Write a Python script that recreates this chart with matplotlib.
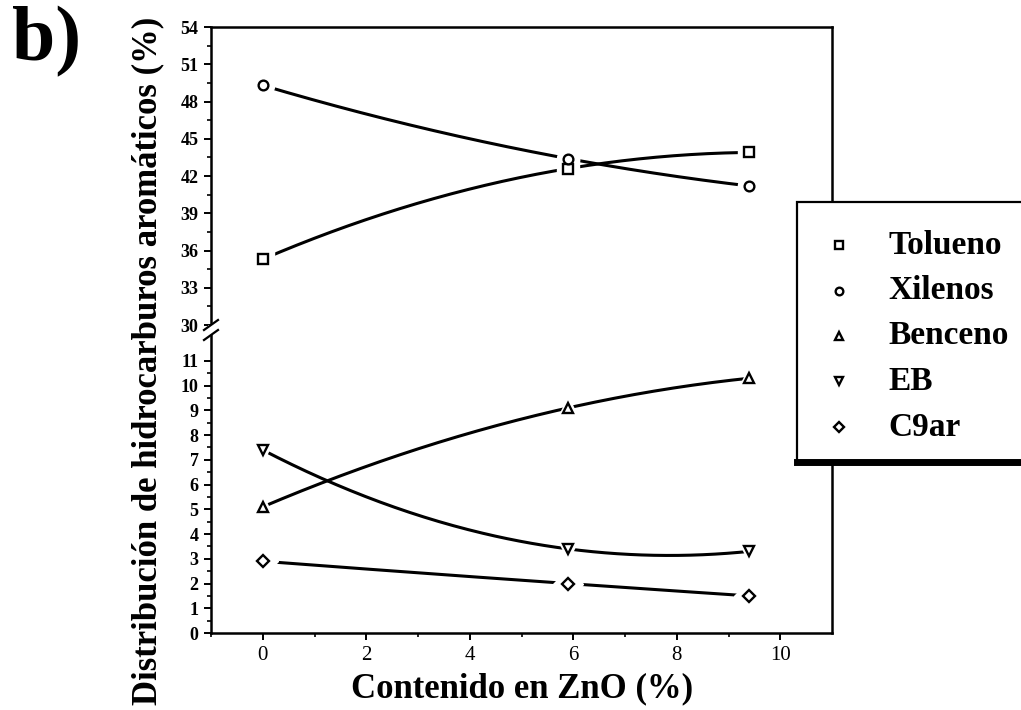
import numpy as np
import matplotlib
matplotlib.use('Agg')
import matplotlib.pyplot as plt
from matplotlib.patches import Rectangle
from matplotlib.lines import Line2D

# ZnO content (%) and aromatic distribution (%)
zno = [0, 5.9, 9.4]
tolueno = [35.3, 42.6, 43.9]
xilenos = [49.3, 43.4, 41.2]
benceno = [5.1, 9.1, 10.3]
eb = [7.4, 3.4, 3.3]
c9ar = [2.9, 2.0, 1.5]

upper_series = [("Tolueno", tolueno, 's'), ("Xilenos", xilenos, 'o')]
lower_series = [("Benceno", benceno, '^'), ("EB", eb, 'v'), ("C9ar", c9ar, 'D')]

plt.rcParams['font.family'] = ['Liberation Serif', 'DejaVu Serif']

W, H = 1021, 710
fig = plt.figure(figsize=(W / 100, H / 100), dpi=100)

left = 211 / W
width = (832 - 211) / W
y_break = 1 - 330 / H
y_top = 1 - 27 / H
y_bot = 1 - 633 / H

ax_up = fig.add_axes([left, y_break, width, y_top - y_break])
ax_lo = fig.add_axes([left, y_bot, width, y_break - y_bot])


def draw_series(ax, values, marker):
    # smooth quadratic trend through the points, broken near markers
    coef = np.polyfit(zno, values, 2)
    xs = np.linspace(zno[0], zno[-1], 200)
    ax.plot(xs, np.polyval(coef, xs), color='black', lw=2.2, zorder=2)
    ms = 7 if marker != 'D' else 6
    ax.plot(zno, values, linestyle='none', marker=marker, ms=ms + 9,
            mfc='white', mec='white', zorder=3)
    ax.plot(zno, values, linestyle='none', marker=marker, ms=ms,
            mfc='white', mec='black', mew=1.7, zorder=4)


for name, vals, m in upper_series:
    draw_series(ax_up, vals, m)
for name, vals, m in lower_series:
    draw_series(ax_lo, vals, m)

for ax in (ax_up, ax_lo):
    ax.set_xlim(-1, 11)
    for sp in ax.spines.values():
        sp.set_linewidth(1.8)
    ax.tick_params(axis='both', direction='out', width=1.4, length=5)
    ax.tick_params(axis='y', pad=4)
    ax.tick_params(which='minor', direction='out', width=1.2, length=3)
    ax.tick_params(right=False, top=False, which='both')

ax_up.set_ylim(29.6, 54)
ax_up.set_yticks(np.arange(30, 55, 3))
ax_up.set_yticks(np.arange(31.5, 54, 1.5), minor=True)
ax_up.spines['bottom'].set_visible(False)
ax_up.tick_params(axis='x', bottom=False, labelbottom=False, which='both')

ax_lo.set_ylim(0, 12.25)
ax_lo.set_yticks(np.arange(0, 12, 1))
ax_lo.set_yticks(np.arange(0.5, 11.5, 1), minor=True)
ax_lo.spines['top'].set_visible(False)
ax_lo.set_xticks(np.arange(0, 11, 2))
ax_lo.set_xticks(np.arange(-1, 11, 1), minor=True)
ax_lo.tick_params(axis='x', pad=4)

for ax in (ax_up, ax_lo):
    for lab in ax.get_yticklabels():
        lab.set_fontweight('bold')
        lab.set_fontsize(13)
for lab in ax_lo.get_xticklabels():
    lab.set_fontsize(15)

fig.text(522 / W, 1 - 689 / H, "Contenido en ZnO (%)",
         ha='center', va='center', fontsize=25, fontweight='bold')
fig.text(148 / W, 1 - 361 / H, "Distribución de hidrocarburos aromáticos (%)",
         rotation=90, ha='center', va='center', fontsize=25, fontweight='bold')
fig.text(12 / W, 1 - 6 / H, "b)", ha='left', va='top', fontsize=56, fontweight='bold')

# axis break mark on the left spine
fig.add_artist(Rectangle((left - 3 / W, y_break - 5 / H), 6 / W, 10 / H,
                         facecolor='white', edgecolor='none', zorder=5))
for dy in (-5, 5):
    yb = y_break + dy / H
    fig.add_artist(Line2D([left - 7 / W, left + 7 / W], [yb - 5 / H, yb + 5 / H],
                          color='black', lw=1.6, zorder=6))

# legend box sticking out past the right edge
bx0, by0, by1 = 797 / W, 1 - 462 / H, 1 - 202 / H
fig.add_artist(Rectangle((bx0, by0), 1.05 - bx0, by1 - by0, facecolor='white',
                         edgecolor='black', lw=1.6, zorder=5))
fig.add_artist(Line2D([bx0, 1.0], [by0, by0], color='black', lw=5, zorder=6))

legend_rows = upper_series + lower_series
for i, (name, vals, m) in enumerate(legend_rows):
    yy = 1 - (245 + i * 45.5) / H
    fig.add_artist(Line2D([839 / W], [yy], marker=m, ms=5.5 if m != 'D' else 5,
                          mfc='white', mec='black', mew=1.7, linestyle='none', zorder=7))
    fig.text(888 / W, yy, name, ha='left', va='center', fontsize=24,
             fontweight='bold', zorder=7)

fig.savefig('out.png', dpi=100)
